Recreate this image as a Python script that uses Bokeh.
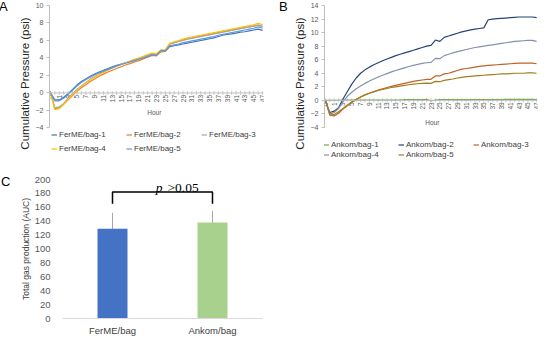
import math
from bokeh.plotting import figure
from bokeh.layouts import column, row
from bokeh.models import (Range1d, FactorRange, Legend, LegendItem, Label, Span, Div,
                          ColumnDataSource, Whisker, SingleIntervalTicker)
from bokeh.embed import file_html
from bokeh.resources import INLINE
from bokeh.core.properties import value

# ---------------- data ----------------
hour_categories = ["0", "0.5"] + [str(h) for h in range(1, 48)]
hour_tick_labels = hour_categories[::2]

ferme_names = ["FerME/bag-1", "FerME/bag-2", "FerME/bag-3", "FerME/bag-4", "FerME/bag-5"]
ferme_bag1 = [0.0, -0.8, -0.8, -0.5, -0.1, 0.4, 0.9, 1.3, 1.6, 1.9, 2.15, 2.4, 2.6, 2.8, 3.0, 3.15, 3.3,
              3.45, 3.6, 3.75, 3.9, 4.05, 4.2, 4.4, 4.35, 4.9, 4.8, 5.3, 5.4, 5.5, 5.6, 5.7, 5.8, 5.9,
              6.0, 6.1, 6.2, 6.3, 6.45, 6.6, 6.7, 6.75, 6.85, 6.95, 7.0, 7.1, 7.2, 7.3, 7.15]
ferme_bag2 = [0.2, -1.8, -1.7, -1.3, -0.8, -0.3, 0.2, 0.6, 0.95, 1.3, 1.6, 1.9, 2.15, 2.4, 2.6, 2.8, 3.0,
              3.2, 3.35, 3.55, 3.7, 3.9, 4.1, 4.3, 4.25, 4.7, 4.75, 5.6, 5.75, 5.9, 6.05, 6.2, 6.3, 6.4,
              6.5, 6.6, 6.7, 6.8, 6.9, 7.0, 7.1, 7.2, 7.3, 7.4, 7.5, 7.55, 7.65, 7.75, 7.6]
ferme_bag3 = [0.1, -1.7, -1.6, -1.2, -0.6, -0.1, 0.4, 0.8, 1.2, 1.55, 1.85, 2.15, 2.4, 2.65, 2.85, 3.05, 3.25,
              3.45, 3.6, 3.8, 3.95, 4.1, 4.3, 4.45, 4.4, 4.8, 4.85, 5.6, 5.75, 5.9, 6.0, 6.15, 6.25, 6.35,
              6.45, 6.55, 6.65, 6.75, 6.85, 6.95, 7.05, 7.15, 7.25, 7.35, 7.45, 7.55, 7.65, 7.75, 7.6]
ferme_bag4 = [0.0, -1.9, -1.8, -1.3, -0.7, -0.2, 0.3, 0.75, 1.15, 1.5, 1.8, 2.1, 2.35, 2.6, 2.85, 3.05, 3.25,
              3.45, 3.65, 3.85, 4.0, 4.2, 4.4, 4.55, 4.5, 4.9, 4.95, 5.7, 5.85, 6.0, 6.15, 6.3, 6.4, 6.5,
              6.6, 6.7, 6.8, 6.9, 7.0, 7.1, 7.2, 7.3, 7.4, 7.5, 7.6, 7.7, 7.8, 7.95, 7.8]
ferme_bag5 = [0.0, -0.9, -0.9, -0.6, -0.2, 0.3, 0.8, 1.2, 1.5, 1.8, 2.05, 2.3, 2.5, 2.7, 2.9, 3.1, 3.25,
              3.4, 3.55, 3.7, 3.85, 4.0, 4.15, 4.35, 4.3, 4.85, 4.8, 5.4, 5.5, 5.6, 5.75, 5.85, 5.95, 6.05,
              6.15, 6.25, 6.35, 6.45, 6.6, 6.7, 6.8, 6.9, 7.0, 7.1, 7.2, 7.3, 7.4, 7.55, 7.4]

ankom_names = ["Ankom/bag-1", "Ankom/bag-2", "Ankom/bag-3", "Ankom/bag-4", "Ankom/bag-5"]
ankom_bag1 = [0.0, 0.0, 0.0, 0.0, 0.05, 0.05, 0.05, 0.05, 0.05, 0.05, 0.05, 0.05, 0.05, 0.05, 0.05, 0.05, 0.05,
              0.05, 0.1, 0.1, 0.1, 0.1, 0.1, 0.15, -0.1, 0.05, 0.1, 0.1, 0.1, 0.1, 0.1, 0.1, 0.1, 0.1,
              0.1, 0.1, 0.1, 0.1, 0.1, 0.1, 0.1, 0.15, 0.15, 0.15, 0.15, 0.15, 0.15, 0.15, 0.1]
ankom_bag2 = [0.0, -1.8, -1.6, -1.1, 0.2, 1.3, 2.4, 3.3, 4.0, 4.5, 4.9, 5.25, 5.55, 5.85, 6.1, 6.35, 6.6,
              6.8, 7.0, 7.2, 7.4, 7.6, 7.8, 8.0, 8.1, 8.9, 8.7, 9.3, 9.5, 9.7, 9.9, 10.1, 10.25, 10.4,
              10.5, 10.6, 10.7, 11.9, 12.0, 12.05, 12.1, 12.15, 12.2, 12.25, 12.3, 12.3, 12.3, 12.3, 12.2]
ankom_bag3 = [0.0, -2.2, -2.3, -1.9, -1.3, -0.8, -0.3, 0.1, 0.5, 0.8, 1.05, 1.3, 1.5, 1.7, 1.9, 2.05, 2.2,
              2.35, 2.5, 2.65, 2.8, 2.9, 3.0, 3.1, 3.1, 3.6, 3.6, 3.9, 4.0, 4.2, 4.4, 4.6, 4.7, 4.8,
              4.9, 5.0, 5.1, 5.15, 5.2, 5.25, 5.3, 5.35, 5.4, 5.45, 5.5, 5.5, 5.5, 5.5, 5.4]
ankom_bag4 = [0.0, -2.0, -1.8, -1.2, -0.2, 0.6, 1.2, 1.7, 2.1, 2.5, 2.85, 3.15, 3.45, 3.7, 3.95, 4.2, 4.4,
              4.6, 4.8, 5.0, 5.15, 5.3, 5.45, 5.55, 5.6, 6.2, 6.15, 6.6, 6.8, 7.0, 7.2, 7.35, 7.5, 7.65,
              7.8, 7.9, 8.0, 8.1, 8.2, 8.3, 8.4, 8.5, 8.6, 8.7, 8.75, 8.8, 8.85, 8.85, 8.7]
ankom_bag5 = [0.0, -2.0, -2.1, -1.7, -1.2, -0.7, -0.25, 0.15, 0.5, 0.8, 1.05, 1.25, 1.45, 1.6, 1.75, 1.9, 2.0,
              2.1, 2.2, 2.3, 2.4, 2.45, 2.5, 2.55, 2.5, 2.8, 2.75, 2.95, 3.05, 3.15, 3.3, 3.4, 3.5, 3.55,
              3.6, 3.65, 3.7, 3.75, 3.8, 3.85, 3.9, 3.9, 3.95, 4.0, 4.0, 4.0, 4.05, 4.05, 4.0]

groups = ["FerME/bag", "Ankom/bag"]
auc_mean = [129, 138]
auc_sd = [23, 17]
bracket_low, bracket_high = 165, 182
p_text_y = 188

ferme_colors = ["#4472C4", "#ED7D31", "#A5A5A5", "#FFC000", "#5B9BD5"]
ankom_colors = ["#70AD47", "#264478", "#C0622A", "#8591AC", "#A27E1E"]
bar_colors = ["#4472C4", "#A9D18E"]

FONT = "Liberation Sans"
idx = list(range(len(hour_categories)))
tick_idx = idx[::2]

TOP_H = 165
TOP_LW = 19     # width of the panel-letter column above
BOT_LW = 21     # width of the panel-letter column below


def letter_div(txt, width, height, pad_top, pad_left):
    return Div(text=txt, width=width, height=height, margin=0,
               styles={"font-family": FONT, "font-size": "13px", "color": "#000000",
                       "line-height": "13px", "padding-top": f"{pad_top}px",
                       "padding-left": f"{pad_left}px"})


def line_panel(series, names, colors, ymin, ymax, ybottom, top_border, right_border,
               hour_pos, legend_loc, legend_spacing, legend_label_width):
    p = figure(width=275 - TOP_LW, height=TOP_H, x_range=Range1d(-0.2, 48.2),
               y_range=Range1d(ybottom, ymax), x_axis_location=None, output_backend="svg",
               toolbar_location=None, min_border_left=48 - TOP_LW, min_border_right=right_border,
               min_border_top=top_border, min_border_bottom=0)
    p.outline_line_color = None
    p.grid.visible = False
    ya = p.yaxis[0]
    ya.bounds = (ymin, ymax)
    ya.ticker = SingleIntervalTicker(interval=2)
    ya.minor_tick_line_color = None
    ya.axis_line_color = "#BFBFBF"
    ya.major_tick_line_color = "#BFBFBF"
    ya.major_tick_out = 3
    ya.major_tick_in = 0
    ya.major_label_text_font = FONT
    ya.major_label_text_font_size = "7px"
    ya.major_label_text_color = "#595959"
    ya.major_label_standoff = 2
    ya.axis_label = "Cumulative Pressure (psi)"
    ya.axis_label_text_font = FONT
    ya.axis_label_text_font_size = "11.5px"
    ya.axis_label_text_font_style = "normal"
    ya.axis_label_text_color = "#262626"
    ya.axis_label_standoff = 2

    p.add_layout(Span(location=0, dimension="width", line_color="#BFBFBF", line_width=1))
    p.scatter(x=idx, y=[0] * len(idx), marker="dash", angle=math.pi / 2, size=4,
              line_color="#BFBFBF", line_width=0.8)
    p.text(x=tick_idx, y=[0] * len(tick_idx), text=hour_tick_labels, angle=math.pi / 2,
           text_align="right", text_baseline="middle", y_offset=2,
           text_font=value(FONT), text_font_size="6.5px", text_color="#595959")

    items = []
    for s, n, c in zip(series, names, colors):
        r = p.line(idx, s, line_color=c, line_width=1.2)
        items.append(LegendItem(label=n, renderers=[r]))
    leg = Legend(items=items, location=legend_loc, orientation="horizontal", ncols=3,
                 glyph_width=6, glyph_height=9, label_standoff=2, label_width=legend_label_width,
                 label_height=9, spacing=legend_spacing, padding=0, margin=0, border_line_color=None,
                 background_fill_alpha=0, label_text_font=FONT, label_text_font_size="8px",
                 label_text_color="#404040")
    p.add_layout(leg)

    p.add_layout(Label(x=hour_pos[0], y=hour_pos[1], text="Hour", text_align="center",
                       text_baseline="middle", text_font=FONT, text_font_size="6.5px",
                       text_color="#595959"))
    return p


pA = line_panel([ferme_bag1, ferme_bag2, ferme_bag3, ferme_bag4, ferme_bag5], ferme_names, ferme_colors,
                -4, 10, -7.84, 7, 8, (23.5, -2.2), (2, 8), 5, 62)
pB = line_panel([ankom_bag1, ankom_bag2, ankom_bag3, ankom_bag4, ankom_bag5], ankom_names, ankom_colors,
                -4, 14, -9.03, 9, 9, (24.3, -3.3), (-1, 2), 1, 66)

# ---------------- panel C ----------------
pC = figure(width=275 - BOT_LW, height=342 - TOP_H, x_range=FactorRange(factors=groups),
            y_range=Range1d(0, 200), output_backend="svg", toolbar_location=None,
            min_border_left=57 - BOT_LW, min_border_right=9, min_border_top=183 - TOP_H,
            min_border_bottom=20)
pC.outline_line_color = None
pC.grid.visible = False
pC.vbar(x=groups, top=auc_mean, width=0.3, fill_color=bar_colors, line_color=None)
src = ColumnDataSource(data=dict(g=groups, lo=[m - s for m, s in zip(auc_mean, auc_sd)],
                                 hi=[m + s for m, s in zip(auc_mean, auc_sd)]))
pC.add_layout(Whisker(base="g", lower="lo", upper="hi", source=src, line_color="#A6A6A6",
                      line_width=1, upper_head=None, lower_head=None))
pC.line(x=[groups[0], groups[0], groups[1], groups[1]],
        y=[bracket_low, bracket_high, bracket_high, bracket_low], line_color="#000000", line_width=1.5)
pC.add_layout(Label(x=1, y=p_text_y, text="p", text_align="right", text_baseline="alphabetic",
                    x_offset=0, text_font="Liberation Serif", text_font_style="italic",
                    text_font_size="13.5px", text_color="#000000"))
pC.add_layout(Label(x=1, y=p_text_y, text=">0.05", text_align="left", text_baseline="alphabetic",
                    x_offset=5, text_font="Liberation Serif", text_font_size="13.5px",
                    text_color="#000000"))
ya = pC.yaxis[0]
ya.ticker = SingleIntervalTicker(interval=20)
ya.axis_line_color = None
ya.major_tick_line_color = None
ya.minor_tick_line_color = None
ya.major_tick_out = 0
ya.major_tick_in = 0
ya.major_label_standoff = 8
ya.major_label_text_font = FONT
ya.major_label_text_font_size = "9.5px"
ya.major_label_text_color = "#595959"
ya.axis_label = "Total gas production (AUC)"
ya.axis_label_text_font = FONT
ya.axis_label_text_font_size = "8.5px"
ya.axis_label_text_font_style = "normal"
ya.axis_label_text_color = "#404040"
ya.axis_label_standoff = 1
xa = pC.xaxis[0]
xa.axis_line_color = "#D9D9D9"
xa.major_tick_line_color = None
xa.minor_tick_line_color = None
xa.major_tick_out = 0
xa.major_tick_in = 0
xa.major_label_standoff = 6
xa.major_label_text_font = FONT
xa.major_label_text_font_size = "9.5px"
xa.major_label_text_color = "#404040"

top = row(letter_div("A", TOP_LW, TOP_H, 4, 3), pA, letter_div("B", TOP_LW, TOP_H, 4, 8), pB)
bottom = row(letter_div("C", BOT_LW, 342 - TOP_H, 14, 5), pC)
layout = column(top, bottom, margin=(-4, 0, 0, -4))
open("out.html", "w").write(file_html(layout, INLINE))
